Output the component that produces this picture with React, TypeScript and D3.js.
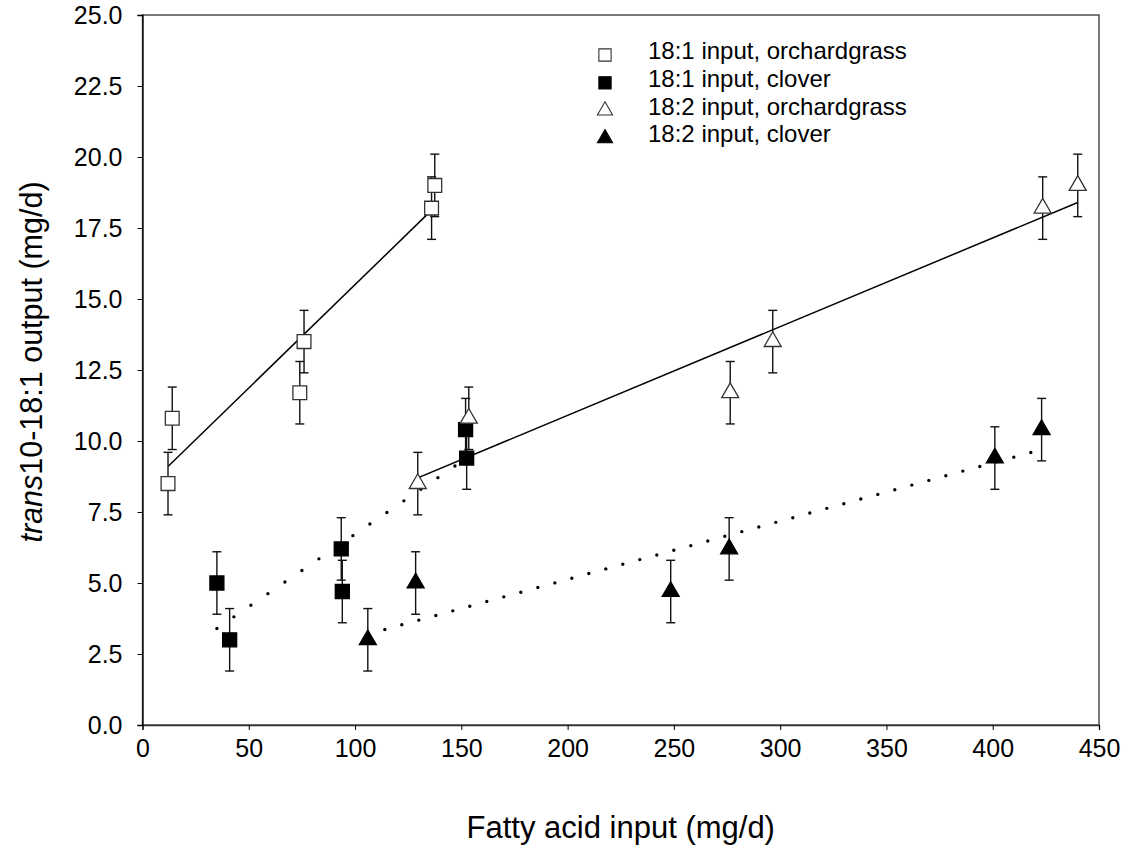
import React, { useEffect, useRef } from 'react';
import * as d3 from 'd3';

const W = 1127;
const H = 848;
const FONT = '"Liberation Sans", Arial, sans-serif';

// x = fatty acid input (mg/d), y = trans10-18:1 output (mg/d), se = error bar
const og181X = [12, 14, 74, 76, 136, 137.5];
const og181Y = [8.5, 10.8, 11.7, 13.5, 18.2, 19.0];
const cl181X = [35, 41, 93.5, 94, 152, 152.5];
const cl181Y = [5.0, 3.0, 6.2, 4.7, 10.4, 9.4];
const og182X = [129.5, 153.5, 276.5, 296.5, 423.5, 440];
const og182Y = [8.5, 10.8, 11.7, 13.5, 18.2, 19.0];
const cl182X = [106, 128.5, 248.5, 276, 401, 423];
const cl182Y = [3.0, 5.0, 4.7, 6.2, 9.4, 10.4];
const SE = 1.1;

// regression line end points
const og181Fit = [[12, 9.1], [137, 18.2]];
const cl181Fit = [[35, 3.4], [152.5, 9.4]];
const og182Fit = [[129.5, 8.7], [440, 18.4]];
const cl182Fit = [[106, 3.2], [423, 9.7]];

const xTicks = [0, 50, 100, 150, 200, 250, 300, 350, 400, 450];
const yTicks = [0, 2.5, 5, 7.5, 10, 12.5, 15, 17.5, 20, 22.5, 25];

const legendLabels = [
  '18:1 input, orchardgrass',
  '18:1 input, clover',
  '18:2 input, orchardgrass',
  '18:2 input, clover',
];

export default function App() {
  const ref = useRef<SVGSVGElement | null>(null);

  useEffect(() => {
    const el = ref.current;
    if (!el) return;
    const svg = d3.select(el);
    svg.selectAll('*').remove();

    const m = { l: 142.5, r: 1099, t: 15, b: 725 };
    const x = d3.scaleLinear().domain([0, 450]).range([m.l, m.r]);
    const y = d3.scaleLinear().domain([0, 25]).range([m.b, m.t]);

    const series = [
      { xs: og181X, ys: og181Y, shape: d3.symbolSquare, size: 190, fill: '#fff', fit: og181Fit, dotted: false },
      { xs: cl181X, ys: cl181Y, shape: d3.symbolSquare, size: 196, fill: '#000', fit: cl181Fit, dotted: true },
      { xs: og182X, ys: og182Y, shape: d3.symbolTriangle, size: 125, fill: '#fff', fit: og182Fit, dotted: false },
      { xs: cl182X, ys: cl182Y, shape: d3.symbolTriangle, size: 125, fill: '#000', fit: cl182Fit, dotted: true },
    ];

    // frame
    svg.append('rect')
      .attr('x', m.l).attr('y', m.t)
      .attr('width', m.r - m.l).attr('height', m.b - m.t)
      .attr('fill', 'none').attr('stroke', '#333').attr('stroke-width', 1.3);

    // x axis
    const gx = svg.append('g').attr('transform', `translate(0,${m.b})`)
      .call(d3.axisBottom(x).tickValues(xTicks).tickSize(5).tickPadding(22).tickFormat(d3.format('d')));
    gx.select('.domain').attr('stroke', '#333').attr('stroke-width', 1.3);
    gx.selectAll('.tick line').attr('stroke', '#000').attr('stroke-width', 1);
    gx.selectAll('text').attr('font-family', FONT).attr('font-size', 25).attr('fill', '#000').attr('dy', '0.2em');

    // y axis
    const gy = svg.append('g').attr('transform', `translate(${m.l},0)`)
      .call(d3.axisLeft(y).tickValues(yTicks).tickSize(5).tickPadding(15).tickFormat(d3.format('.1f')));
    gy.select('.domain').attr('stroke', '#000').attr('stroke-width', 1.3);
    gy.selectAll('.tick line').attr('stroke', '#000').attr('stroke-width', 1);
    gy.selectAll('text').attr('font-family', FONT).attr('font-size', 25).attr('fill', '#000');

    // titles
    svg.append('text')
      .attr('x', (m.l + m.r) / 2).attr('y', 838)
      .attr('text-anchor', 'middle')
      .attr('font-family', FONT).attr('font-size', 31)
      .text('Fatty acid input (mg/d)');

    const yt = svg.append('text')
      .attr('transform', `translate(42,362) rotate(-90)`)
      .attr('text-anchor', 'middle')
      .attr('font-family', FONT).attr('font-size', 30.5);
    yt.append('tspan').attr('font-style', 'italic').text('trans');
    yt.append('tspan').text('10-18:1 output (mg/d)');

    // fit lines
    for (const s of series) {
      const [[x0, y0], [x1, y1]] = s.fit;
      const dx = x(x1) - x(x0);
      const len = Math.hypot(dx, y(y1) - y(y0));
      svg.append('line')
        .attr('x1', x(x0)).attr('y1', y(y0))
        .attr('x2', x(x1)).attr('y2', y(y1))
        .attr('stroke', '#000')
        .attr('stroke-width', s.dotted ? 3.4 : 1.5)
        .attr('stroke-linecap', s.dotted ? 'round' : 'butt')
        .attr('stroke-dasharray', s.dotted ? `0 ${(17 * len) / dx}` : null);
    }

    // error bars
    for (const s of series) {
      const pts = s.xs.map((v, i) => [v, s.ys[i]]);
      const g = svg.append('g').attr('stroke', '#111').attr('stroke-width', 1.4);
      g.selectAll('line.v').data(pts).join('line').attr('class', 'v')
        .attr('x1', (d) => x(d[0])).attr('x2', (d) => x(d[0]))
        .attr('y1', (d) => y(d[1] - SE)).attr('y2', (d) => y(d[1] + SE));
      for (const sign of [-1, 1]) {
        g.selectAll(`line.c${sign}`).data(pts).join('line').attr('class', `c${sign}`)
          .attr('x1', (d) => x(d[0]) - 4.5).attr('x2', (d) => x(d[0]) + 4.5)
          .attr('y1', (d) => y(d[1] + sign * SE)).attr('y2', (d) => y(d[1] + sign * SE));
      }
    }

    // markers
    for (const s of series) {
      const pts = s.xs.map((v, i) => [v, s.ys[i]]);
      svg.append('g').selectAll('path').data(pts).join('path')
        .attr('transform', (d) => `translate(${x(d[0])},${y(d[1])})`)
        .attr('d', d3.symbol().type(s.shape).size(s.size)())
        .attr('fill', s.fill)
        .attr('stroke', s.fill === '#000' ? '#000' : '#333')
        .attr('stroke-width', 1.3);
    }

    // legend
    const lg = svg.append('g');
    legendLabels.forEach((lab, i) => {
      const s = series[i];
      const ty = 59 + i * 27.8;
      lg.append('path')
        .attr('transform', `translate(605,${ty - 4})`)
        .attr('d', d3.symbol().type(s.shape).size(s.shape === d3.symbolSquare ? 150 : 100)())
        .attr('fill', s.fill)
        .attr('stroke', s.fill === '#000' ? '#000' : '#333')
        .attr('stroke-width', 1.1);
      lg.append('text')
        .attr('x', 648).attr('y', ty)
        .attr('font-family', FONT).attr('font-size', 24)
        .text(lab);
    });
  }, []);

  return (
    <div style={{ position: 'absolute', left: 0, top: 0 }}>
      <svg ref={ref} width={W} height={H} style={{ display: 'block', background: '#fff' }} />
    </div>
  );
}
